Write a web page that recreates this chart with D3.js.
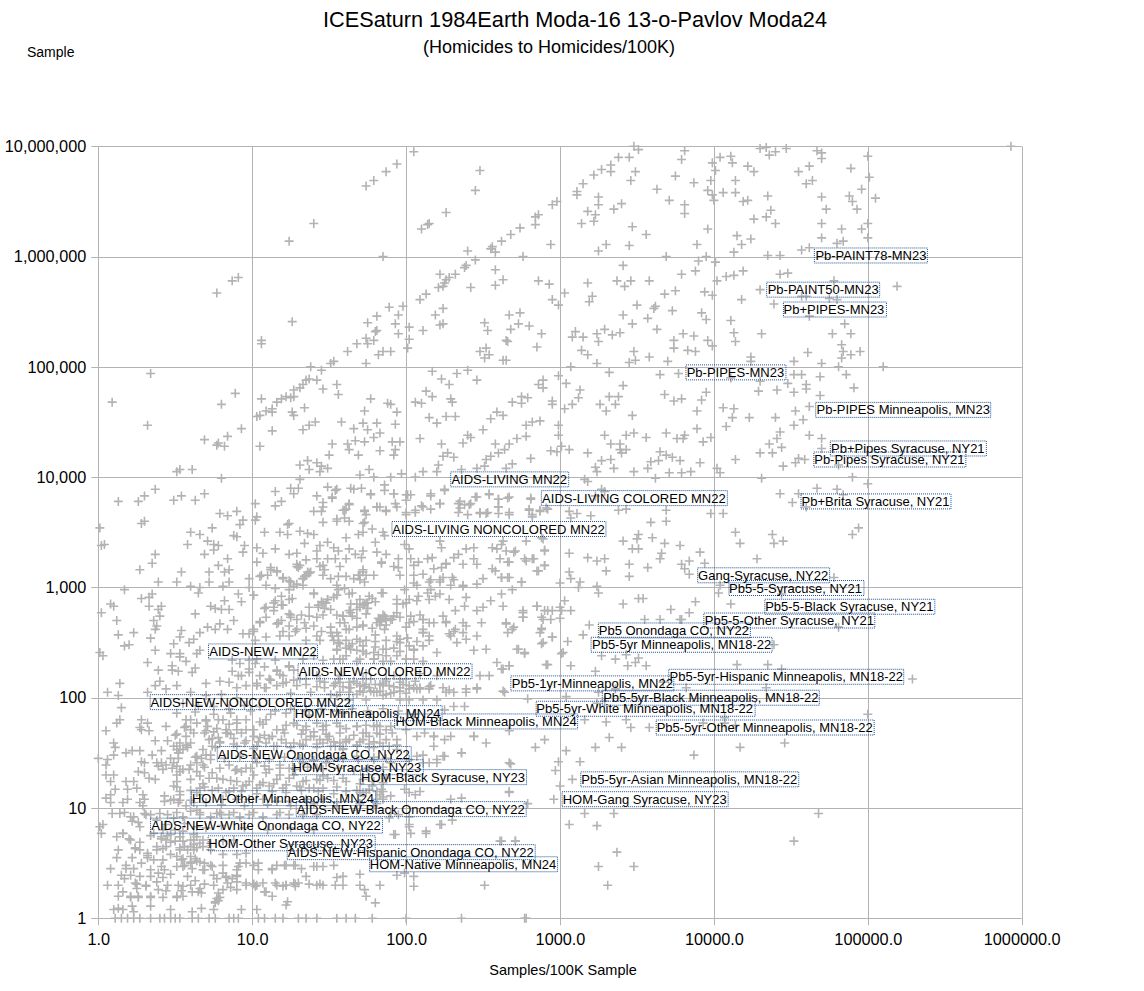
<!DOCTYPE html>
<html><head><meta charset="utf-8">
<script src="https://cdn.jsdelivr.net/npm/d3@7"></script>
<style>html,body{margin:0;background:#fff}svg{display:block}text{font-family:"Liberation Sans",Arial,sans-serif;fill:#000}</style>
</head><body><div id="c"></div>
<script>
const chartTitle="ICESaturn 1984Earth Moda-16 13-o-Pavlov Moda24";
const chartSubtitle="(Homicides to Homicides/100K)";
const xTitle="Samples/100K Sample";
const yTitle="Sample";
const xTicks=[1,10,100,1000,10000,100000,1000000];
const yTicks=[1,10,100,1000,10000,100000,1000000,10000000];
// Readings from the picture as [log10 samples per 100K, log10 samples]
const upperLeftReadings=[[2.05,6.95],[1.94,6.84],[1.87,6.77],[1.79,6.69],[1.74,6.64],[2.48,6.78],[2.45,6.6],[2.26,6.4],[2.15,6.3],[2.14,6.29],[2.1,6.25],[1.4,6.3],[1.24,6.14],[1.85,6],[2.98,6.5],[2.95,6.47],[2.86,6.38],[2.84,6.36],[2.84,6.29],[2.74,6.26],[2.68,6.2],[2.62,6.14],[2.56,6.09],[2.55,6.07],[2.58,6.04],[2.4,6.05],[2.94,6.11],[2.76,6],[2.45,5.97],[2.39,5.92],[2.38,5.9],[2.32,5.84],[2.28,5.81],[2.26,5.79],[2.25,5.76],[2.24,5.73],[2.22,5.84],[2.21,5.72],[2.58,5.88],[2.63,5.79],[2.58,5.74],[2.42,5.72],[2.86,5.78],[2.93,5.75],[2.95,5.61],[2.99,5.56],[.91,5.81],[.87,5.78],[.77,5.67],[2.13,5.66],[2.09,5.61],[1.98,5.55],[1.89,5.54],[2.24,5.53],[2.19,5.47],[2.74,5.49],[2.67,5.47],[1.81,5.46],[1.95,5.47],[1.75,5.4],[1.93,5.39],[2.24,5.39],[2.22,5.38],[2.51,5.4],[2.53,5.33],[2.73,5.39],[2.68,5.34],[2.8,5.37],[2.88,5.3],[1.26,5.41],[1.81,5.33],[1.8,5.32],[1.79,5.24],[1.74,5.26],[1.75,5.21],[2.02,5.36],[2.11,5.33],[1.95,5.3],[2.02,5.25],[2.01,5.17],[2.65,5.24],[2.66,5.23],[1.06,5.24],[1.06,5.21],[2.85,5.18],[2.52,5.17],[2.48,5.14],[2.54,5.11],[2.51,5.08],[2.63,5.06],[2.65,5.06],[1.9,5.14],[1.85,5.14],[1.82,5.11],[1.68,5.21],[1.62,5.14],[1.53,5.05],[1.51,5.03],[1.74,5.03],[1.38,5],[1.45,4.97],[2.17,4.96],[2.33,4.94],[2.4,4.97],[2.46,4.88],[2.23,4.89],[2.28,4.84],[2.86,4.84],[2.89,4.88],[2.89,4.81],[2.99,4.92],[.34,4.94],[1.37,4.89],[1.35,4.88],[1.33,4.84],[1.31,4.81],[1.42,4.88],[1.46,4.8],[1.55,4.84],[1.56,4.75],[1.27,4.79],[1.27,4.73],[1.25,4.72],[1.22,4.73],[1.19,4.71],[1.16,4.68],[1.06,4.71],[2.13,4.78],[2.17,4.73],[2.06,4.68],[2.1,4.67],[1.77,4.71],[1.88,4.67],[1.9,4.66],[1.94,4.59],[2.29,4.71],[2.3,4.68],[2.79,4.72],[2.75,4.73],[2.75,4.67],[2.69,4.68],[2.95,4.69],[2.95,4.66],[.89,4.76],[.8,4.66],[.09,4.68],[1.13,4.62],[1.09,4.6],[1.13,4.59],[1.03,4.55],[1.05,4.56],[1.34,4.63],[1.26,4.59],[1.27,4.56],[1.73,4.6],[1.72,4.49],[1.81,4.49],[1.93,4.48],[1.58,4.5],[1.41,4.5],[1.37,4.47],[1.33,4.43],[2.15,4.54],[2.2,4.49],[2.26,4.55],[2.32,4.55],[2.59,4.59],[2.63,4.56],[2.55,4.53],[2.87,4.51],[2.82,4.5],[2.78,4.47],[2.99,4.47],[2.5,4.43],[.32,4.47],[.93,4.44],[.69,4.34],[1.13,4.42],[1.66,4.44],[1.75,4.43],[1.83,4.4],[1.79,4.36],[1.73,4.32],[1.67,4.33],[1.62,4.3],[1.52,4.3],[2.4,4.38],[2.42,4.36],[2.37,4.31],[2.09,4.35],[2.78,4.37],[2.72,4.35],[2.67,4.3],[2.64,4.25],[2.6,4.22],[2.55,4.19],[2.52,4.16],[2.99,4.38],[2.94,4.24],[2.98,4.23],[2.23,4.3],[2.58,4.3],[1.91,4.32],[1.96,4.32],[1.83,4.24],[1.93,4.25],[1.92,4.2],[.77,4.29],[.78,4.31],[.82,4.28],[.84,4.37],[1.05,4.28],[1.63,4.25],[1.69,4.2],[1.5,4.2],[2.27,4.22],[2.24,4.19],[2.31,4.18],[2.21,4.11],[2.81,4.17],[2.69,4.12],[2.51,4.1],[1.31,4.11],[1.36,4.15],[1.42,4.13],[1.45,4.1],[1.49,4.08],[1.37,4.07],[1.44,4.05],[.53,4.07],[.61,4.07],[.51,4.05],[1.76,4.07],[1.7,4.02],[1.79,4],[2.11,4.05],[2.2,4.05],[2.36,4.07],[2.46,4.08],[2.65,4.08],[1.97,4.03],[1.9,4],[2.06,4],[1.31,3.98],[.8,3.99],[.37,3.89],[.3,3.83],[.26,3.78],[.13,3.78],[.54,3.83],[.49,3.79],[.63,3.79],[.69,3.85],[1.15,3.87],[1.25,3.9],[1.3,3.9],[1.27,3.85],[1.19,3.78],[1.15,3.74],[1.02,3.76],[1.42,3.83],[1.55,3.89],[1.49,3.91],[1.52,3.81],[1.46,3.77],[1.46,3.73],[1.66,3.89],[1.71,3.9],[1.86,3.93],[1.86,3.88],[1.92,3.85],[1.77,3.84],[2,3.84],[2.03,3.84],[2,3.79],[1.93,3.76],[2.16,3.83],[2.25,3.88],[2.35,3.78],[2.38,3.75],[2.42,3.76],[2.35,3.72],[2.46,3.82],[2.54,3.84],[2.6,3.8],[2.66,3.81],[2.81,3.81],[2.22,3.76],[2.16,3.71],[2.11,3.73],[2.06,3.68],[2,3.66],[1.81,3.73],[1.73,3.7],[1.63,3.75],[1.6,3.7],[1.4,3.69],[1.45,3.69],[1.87,3.7],[1.74,3.66],[.9,3.69],[.79,3.67],[.84,3.65],[.3,3.6],[.28,3.58],[.94,3.61],[.92,3.57],[1.02,3.61],[1.03,3.64],[.01,3.54],[.74,3.54],[1.23,3.57],[1.46,3.59],[1.55,3.6],[1.6,3.63],[1.72,3.58],[2.48,3.67],[2.52,3.67],[2.6,3.73],[2.6,3.67],[2.67,3.66],[2.8,3.7],[2.82,3.64],[2.87,3.7],[2.91,3.72]];
const upperRightReadings=[[5.93,7],[3.48,7],[3.51,6.97],[3.81,6.96],[3.79,6.88],[3.38,6.9],[3.45,6.9],[3.33,6.83],[3.33,6.77],[3.27,6.79],[3.22,6.74],[3.49,6.77],[3.46,6.69],[3.75,6.73],[3.15,6.66],[3.11,6.59],[3.11,6.56],[3.25,6.54],[3.25,6.47],[3.4,6.48],[3.35,6.43],[3.18,6.41],[3.23,6.38],[3.22,6.32],[3.14,6.3],[3.63,6.61],[3.71,6.51],[3.87,6.67],[3.81,6.47],[3.81,6.39],[3.47,6.27],[3.56,6.2],[3.3,6.11],[3.25,6.05],[3.45,6.1],[3.99,6.85],[4.01,6.78],[4.04,6.9],[4.11,6.91],[4.12,6.85],[4.3,6.98],[4.34,6.99],[4.4,6.95],[4.36,6.92],[4.47,6.98],[4.22,6.82],[4.26,6.77],[4.14,6.69],[3.98,6.69],[3.96,6.6],[3.99,6.56],[4,6.51],[4.06,6.58],[4.14,6.58],[4.19,6.5],[4.22,6.51],[4.35,6.55],[4.67,6.96],[4.7,6.94],[4.7,6.89],[4.55,6.77],[4.62,6.82],[4.64,6.69],[4.6,6.66],[5,6.91],[4.89,6.8],[5.01,6.72],[4.96,6.61],[4.88,6.55],[5.05,6.53],[4.9,6.5],[4.93,6.43],[4.7,6.54],[4.73,6.43],[4.37,6.42],[4.34,6.36],[4.26,6.34],[4.4,6.3],[4.7,6.3],[4.83,6.25],[4.96,6.25],[5,6.3],[4.7,6.17],[5,6.17],[4.84,6.14],[4.8,6.12],[3.96,6.25],[4.15,6.19],[4.24,6.16],[4.18,6.11],[3.89,6.11],[4.13,6.04],[4.57,6.06],[4.62,6.08],[4.35,6.01],[4.43,6.01],[3.69,6],[3.95,6],[3.9,5.96],[4.01,5.95],[3.41,5.92],[3.88,5.87],[3.79,5.84],[4.19,5.87],[4.13,5.83],[4.08,5.82],[4.02,5.78],[4.43,5.84],[4.48,5.85],[5.19,5.73],[4.78,5.78],[4.3,5.7],[4.18,5.61],[4.39,5.57],[3.18,5.76],[3.37,5.78],[3.46,5.78],[3.58,5.78],[3.42,5.73],[3.03,5.67],[3.21,5.64],[3.19,5.59],[3.68,5.66],[3.75,5.69],[3.94,5.68],[3.99,5.65],[3.5,5.56],[3.62,5.55],[3.61,5.53],[3.73,5.51],[3.41,5.47],[3.92,5.49],[3.95,5.43],[3.57,5.44],[3.47,5.39],[3.63,5.34],[4.11,5.42],[4.13,5.31],[4.31,5.3],[4.14,5.23],[4.57,5.64],[4.6,5.64],[4.75,5.62],[4.8,5.61],[4.62,5.46],[4.85,5.39],[4.77,5.3],[4.89,5.3],[4.83,5.2],[4.84,5.14],[4.89,5.11],[4.95,5.14],[4.83,5.08],[4.61,5.13],[4.52,5.05],[4.7,5.03],[4.81,5],[5.1,5],[3.1,5.32],[3.08,5.27],[3.15,5.27],[3.24,5.3],[3.29,5.34],[3.34,5.29],[3.39,5.31],[3.25,5.23],[3.74,5.24],[3.74,5.17],[3.8,5.3],[3.87,5.28],[3.96,5.24],[3.99,5.19],[3.83,5.15],[3.88,5.14],[3.48,5.14],[3.58,5.09],[3.45,5.04],[3.49,5.06],[3.7,5.05],[3.14,5.15],[3.18,5.11],[3.24,5.03],[3.07,5],[3.32,4.95],[3.65,4.93],[3.77,4.94],[3.04,4.85],[4.24,5.09],[4.24,5.05],[4.11,4.9],[4.3,4.87],[4.52,4.93],[4.57,4.93],[4.69,4.91],[4.86,4.93],[4.48,4.85],[4.6,4.84],[4.6,4.8],[4.52,4.77],[4.41,4.79],[4.29,4.78],[4.91,4.81],[4.69,4.74],[3.41,4.83],[3.13,4.79],[3.12,4.72],[3.68,4.75],[3.74,4.69],[3.79,4.71],[3.92,4.7],[3.95,4.77],[3.32,4.73],[3.38,4.73],[3.36,4.66],[3.26,4.66],[3.3,4.6],[3.08,4.66],[3.03,4.62],[3.47,4.56],[3.89,4.6],[4.06,4.63],[4.13,4.62],[4.12,4.54],[4.23,4.54],[4.4,4.54],[4.08,4.46],[4.53,4.6],[4.62,4.64],[4.58,4.52],[4.52,4.47],[4.43,4.41],[4.41,4.35],[4.36,4.3],[4.44,4.27],[4.3,4.22],[4.38,4.22],[4.62,4.38],[4.7,4.35],[4.7,4.26],[4.55,4.17],[4.59,4.16],[4.53,4.13],[4.45,4.1],[4.81,4.11],[3.89,4.44],[3.98,4.36],[3.93,4.32],[4.14,4.16],[3.29,4.38],[3.43,4.38],[3.48,4.4],[3.56,4.36],[3.69,4.4],[3.76,4.35],[3.81,4.38],[3.8,4.35],[3.33,4.3],[3.39,4.3],[3.39,4.25],[3.43,4.25],[3.4,4.22],[3.06,4.25],[3.18,4.22],[3.01,4.28],[3.65,4.23],[3.59,4.14],[3.64,4.15],[3.69,4.2],[3.73,4.18],[3.78,4.15],[3.27,4.15],[3.33,4.16],[3.23,4.09],[3.35,4.08],[3.24,4.05],[3.57,4.08],[3.48,4.05],[3.71,4.04],[3.79,4.04],[3.85,4.05],[3.91,4.13],[4.02,4.08],[4.04,4.04],[3.62,3.99],[4.31,3.99],[4.9,4],[5,3.94],[4.67,3.9],[4.8,3.89],[4.43,3.85],[4.55,3.85],[4.84,3.84],[4.51,3.77],[4.6,3.73],[3.18,3.96],[3.16,3.98],[3.27,3.89],[3.29,3.87],[3.23,3.83],[3.98,3.67],[4.06,3.67],[3.69,3.7],[3.69,3.6],[3.59,3.59],[3.43,3.71],[3.38,3.7],[3.2,3.65],[3.11,3.67],[3.06,3.69],[3.07,3.63],[4.94,3.54]];
const lowerRightReadings=[[4.14,3.5],[4.38,3.48],[4.9,3.48],[4.17,3.4],[4.39,3.4],[4.45,3.42],[3.51,3.48],[3.5,3.44],[3.41,3.42],[3.6,3.45],[3.68,3.4],[3.78,3.38],[3.47,3.35],[3.51,3.35],[3.66,3.31],[3.65,3.26],[3.91,3.32],[4.28,3.26],[3.84,3.24],[3.79,3.21],[3.81,3.17],[3.94,3.22],[3.84,3.12],[3.45,3.21],[3.45,3.1],[3.57,3.18],[3.3,3.15],[2.9,3.34],[2.88,3.45],[2.78,3.42],[2.7,3.32],[3.06,3.31],[3.18,3.27],[3.24,3.24],[3.29,3.26],[2.78,3.24],[2.83,3.26],[2.9,3.2],[2.85,3.15],[2.66,3.23],[2.66,3.09],[2.62,3.09],[2.75,3.05],[2.69,2.98],[3.06,3.14],[3.07,3.08],[3.13,3.05],[3,3.04],[3.12,3],[3.24,3.01],[3.25,2.95],[4.78,3.09],[4.44,2.94],[4.04,3.02],[4.03,2.95],[3.88,2.87],[4.11,2.85],[3.41,2.85],[3.51,2.9],[3.54,2.9],[3.03,2.88],[3.07,2.79],[3,2.82],[2.85,2.83],[2.9,2.79],[2.92,2.79],[2.76,2.79],[2.76,2.73],[2.88,2.73],[2.94,2.71],[3,2.72],[3.19,2.66],[3.15,2.57],[2.65,2.67],[2.7,2.64],[2.66,2.59],[2.88,2.63],[2.87,2.59],[2.95,2.55],[2.88,2.49],[3.05,2.51],[3.72,2.8],[3.84,2.77],[3.79,2.71],[3.55,2.71],[3.65,2.71],[3.78,2.71],[4.81,2.64],[4.39,2.48],[2.73,2.44],[2.77,2.4],[3.01,2.4],[3.27,2.38],[3.36,2.35],[3.43,2.39],[3.51,2.36],[3.49,2.32],[3.56,2.29],[3.44,2.29],[2.92,2.3],[3.07,2.29],[4.15,2.3],[4.35,2.3],[4.44,2.26],[3.23,2.24],[2.67,2.29],[2.62,2.26],[2.64,2.05],[5.29,2.17],[4.34,2.09],[3.82,2.09],[3.25,2.05],[3.36,2.08],[3.67,2.14],[2.79,1.99],[3.04,2.01],[3.24,1.95],[3.29,1.97],[5,1.85],[3.16,1.8],[3.3,1.78],[3.43,1.8],[3.46,1.73],[3.58,1.73],[3.93,1.77],[4.07,1.82],[4.07,1.77],[4.14,1.75],[2.67,1.7],[2.9,1.62],[2.84,1.55],[3.32,1.64],[3.04,1.52],[3.23,1.55],[3.4,1.55],[4.17,1.55],[4.46,1.59],[3.87,1.48],[3.13,1.42],[2.99,1.42],[2.97,1.34],[2.68,1.4],[3.08,1.26],[3,1.2],[2.67,1.14],[2.96,1.08],[2.79,1.04],[3.16,.95],[3.35,.95],[4.68,.95],[3.06,.85],[3.24,.84],[4.52,.7],[2.62,.7],[2.71,.7],[3.37,.6],[3.25,.47],[3.48,.47],[3.31,.3],[2.77,0]];
const midLeftReadings=[[.02,3.38],[.04,3.39],[.6,3.5],[.66,3.48],[.71,3.42],[.69,3.3],[.58,3.39],[.75,3.39],[.78,3.38],[.75,3.34],[.88,3.47],[.9,3.46],[.95,3.38],[.94,3.32],[1.03,3.36],[1.07,3.31],[1.15,3.35],[1.03,3.23],[1.08,3.5],[1.18,3.5],[1.23,3.48],[1.31,3.51],[1.36,3.49],[1.4,3.48],[1.24,3.58],[1.34,3.4],[1.24,3.3],[1.29,3.31],[1.35,3.25],[.37,3.3],[.35,3.22],[.27,3.16],[.54,3.14],[.84,3.26],[.78,3.2],[.85,3.16],[.82,3.14],[.72,3.14],[.72,3.05],[.85,3.05],[.81,3.01],[.39,3.05],[.51,3.05],[.6,3.01],[.17,2.98],[.66,3],[.65,2.95],[.98,3.08],[.98,3],[1.06,3.11],[1.1,3.11],[1.2,3.09],[1.24,3.06],[1.12,3.18],[1.16,3.15],[1.29,3.21],[1.3,3.18],[1.35,3.11],[1.36,3.14],[1.33,3.08],[1.01,2.93],[.91,2.94],[.93,2.87],[.82,2.88],[.35,2.94],[.33,2.91],[.28,2.9],[.33,2.83],[.08,2.85],[.1,2.83],[.02,2.77],[.12,2.7],[.41,2.83],[.39,2.8],[.4,2.74],[.36,2.7],[.38,2.65],[.37,2.62],[.73,2.83],[.76,2.81],[.8,2.8],[.85,2.8],[.63,2.76],[.88,2.7],[.79,2.67],[.71,2.64],[.76,2.62],[.84,2.62],[.66,2.59],[.54,2.61],[.13,2.57],[.23,2.59],[.17,2.47],[.2,2.48],[.34,2.54],[.49,2.49],[.59,2.5],[.62,2.53],[.53,2.55],[.01,2.41],[.03,2.38],[.37,2.43],[.32,2.32],[.47,2.4],[.53,2.4],[.53,2.37],[.64,2.4],[.66,2.43],[.48,2.29],[.52,2.24],[.57,2.33],[.48,2.25],[.39,2.25],[.4,2.15],[.63,2.27],[.61,2.23],[.14,2.13],[.06,2.05],[.13,2.02],[.32,2.05],[.44,2.08],[.51,2.11],[.37,2.11],[.7,2.13],[.79,2.15],[.85,2.14],[.87,2.24],[.91,2.2],[.93,2.2],[.98,2.26],[.9,2.09],[.96,2.11],[1.24,2.76],[1.25,2.73],[1.32,2.75],[1.37,2.74],[1.42,2.73],[1.15,2.88],[1.19,2.92],[1.24,2.89],[1.2,2.84],[1.09,2.82],[1.14,2.82],[1.05,2.68],[1.09,2.73],[1.14,2.79],[1.16,2.67],[1.19,2.7],[1.24,2.65],[1.29,2.62],[1.01,2.62],[.98,2.58],[.94,2.58],[1.09,2.55],[1.18,2.56],[1.24,2.56],[1.35,2.52],[1.42,2.56],[1.37,2.82],[1.43,2.82],[1.46,2.86],[1.49,2.89],[1.4,2.94],[1.33,3.02],[1.24,2.98],[1.29,3.03],[1.46,3.11],[1.42,3.33],[1.44,3.38],[1.42,3.26],[1.49,3.26],[1.46,3.2],[1.49,3.41],[.87,2.34],[.92,2.31],[.98,2.34],[1.03,2.35],[1.15,2.34],[1.24,2.29],[1.33,2.35],[1.4,2.38],[.98,2.23],[1.05,2.2],[1.11,2.17],[1.16,2.25],[1.2,2.2],[1.27,2.25],[1.03,2.11],[1.09,2.09],[1.16,2.11],[1.22,2.14],[1.29,2.11],[1.35,2.17],[1.42,2.2],[1.47,2.14]];
const midCentreReadings=[[1.54,3.88],[1.64,3.9],[1.77,3.85],[1.92,3.85],[2.01,3.84],[2.16,3.85],[2.25,3.89],[1.52,3.82],[1.63,3.76],[1.61,3.71],[1.59,3.7],[1.73,3.69],[1.81,3.73],[1.83,3.73],[1.87,3.69],[1.94,3.73],[2.06,3.7],[2.1,3.74],[2.22,3.76],[2.34,3.76],[2.41,3.75],[2.45,3.82],[2.54,3.85],[2.6,3.8],[2.67,3.82],[2.6,3.73],[2.53,3.68],[2.67,3.68],[2.48,3.68],[2.4,3.66],[2.34,3.68],[2.81,3.8],[2.8,3.71],[2.82,3.66],[2.87,3.69],[2.92,3.71],[1.55,3.62],[1.63,3.6],[1.73,3.59],[1.78,3.53],[1.72,3.5],[1.69,3.48],[1.61,3.45],[1.85,3.5],[1.86,3.47],[2,3.68],[1.53,3.36],[1.56,3.33],[1.63,3.35],[1.67,3.3],[1.72,3.33],[1.8,3.41],[1.81,3.32],[1.87,3.3],[1.95,3.26],[1.99,3.39],[2.02,3.35],[1.54,3.26],[1.61,3.26],[1.71,3.27],[1.84,3.23],[1.95,3.18],[1.96,3.11],[2.22,3.42],[2.23,3.36],[2.34,3.3],[2.31,3.27],[2.26,3.21],[2.39,3.35],[2.44,3.36],[2.44,3.26],[2.46,3.21],[2.56,3.36],[2.59,3.35],[2.63,3.42],[2.62,3.39],[2.71,3.33],[2.65,3.33],[2.61,3.26],[2.67,3.23],[2.77,3.26],[2.82,3.26],[2.9,3.33],[2.89,3.44],[2.9,3.2],[2.86,3.15],[2.56,3.17],[2.58,3.15],[2.62,3.09],[2.67,3.09],[2.5,3.08],[2.75,3.05],[2.03,3.26],[2.08,3.23],[2.14,3.26],[2.17,3.27],[2.23,3.18],[2.37,3.21],[2.24,3.09],[2.3,3.09],[2.11,3.12],[2.05,3.11],[2.15,3.05],[2.22,3.05],[2.29,3.02],[2.37,3.02],[2.46,3.03],[2.14,2.95],[2.22,2.94],[2.15,2.89],[2.08,2.92],[2.07,2.88],[1.99,2.98],[2.39,2.91],[2.38,2.83],[2.32,2.79],[2.28,2.89],[2.46,2.79],[2.55,2.88],[2.5,2.82],[2.62,2.94],[2.63,2.83],[1.72,3.14],[1.7,3.11],[1.66,3.08],[1.79,3.11],[1.84,2.95],[1.76,2.92],[1.75,2.86],[1.68,2.85],[1.63,2.94],[1.56,2.98],[1.53,2.91],[1.73,2.85],[1.7,2.82],[1.63,2.79],[1.59,2.74],[1.57,2.68],[1.86,2.74],[1.83,2.7],[1.87,2.7],[1.81,2.68],[1.91,2.71],[2.02,2.68],[1.98,2.85],[1.94,2.89],[2.11,2.71],[2.15,2.68],[2.24,2.74],[2.26,2.68],[2.37,2.68],[2.39,2.65],[2.49,2.68],[2.65,2.68],[2.69,2.62],[2.76,2.77],[2.76,2.73],[2.85,2.83],[2.89,2.71],[2.88,2.62],[2.95,2.79],[3.01,2.79],[2.11,2.59],[2.15,2.56],[2.28,2.58],[2.32,2.62],[2.39,2.53],[2.46,2.56],[2.44,2.43],[2.52,2.44],[2.33,2.5],[2.72,2.44],[2.77,2.41],[2.89,2.5],[2.95,2.55],[3.02,2.41],[2.91,2.3],[2.59,2.32],[2.67,2.29],[2.63,2.26],[2.54,2.2],[2.48,2.2],[2.63,2.06],[2.46,2.09],[2.39,2.05],[2.26,2.05],[2.16,2.11],[2.07,2.08],[1.83,2.71],[1.72,2.65],[1.63,2.62],[1.55,2.59],[1.94,2.56],[2.02,2.47],[1.96,2.5],[1.87,2.44],[1.79,2.41],[1.72,2.47],[1.63,2.47],[1.56,2.5],[1.52,2.56],[2.11,2.47],[2.2,2.41],[2,2.35],[1.55,2.44],[1.61,2.38],[1.7,2.35],[1.79,2.35],[1.87,2.38],[1.94,2.38],[2.05,2.35],[1.53,2.35],[1.57,2.35],[1.63,2.14],[1.7,2.11],[1.76,2.09],[1.83,2.12],[1.89,2.11],[1.96,2.14],[2.02,2.11],[1.57,2.14],[1.72,2.17],[1.87,2.17],[2,2.17],[1.63,2.05],[1.72,2.05],[1.81,2.05],[1.92,2.05]];
const lowerLeftReadings=[[.15,1.91],[.14,1.8],[.12,1.77],[.05,1.7],[.28,1.8],[.27,1.73],[.32,1.77],[.33,1.7],[.28,1.71],[.44,1.74],[.57,1.8],[.64,1.77],[.7,1.79],[.71,1.74],[.7,1.7],[.6,1.71],[.56,1.73],[.1,1.59],[.11,1.55],[.37,1.61],[.45,1.61],[.51,1.67],[.6,1.59],[.58,1.55],[.51,1.56],[.53,1.53],[.52,1.5],[0,1.45],[.1,1.48],[.06,1.44],[.05,1.39],[.18,1.5],[.22,1.52],[.27,1.52],[.35,1.48],[.41,1.52],[.28,1.42],[.3,1.41],[.38,1.41],[.41,1.41],[.44,1.39],[.39,1.38],[.51,1.38],[.53,1.33],[.64,1.41],[.67,1.45],[.7,1.48],[.74,1.56],[.78,1.64],[.83,1.68],[.05,1.3],[.1,1.3],[.08,1.24],[.26,1.33],[.3,1.32],[.33,1.27],[.37,1.26],[.18,1.24],[.23,1.24],[.25,1.18],[.19,1.17],[.11,1.17],[.08,1.12],[.19,1.08],[.16,1.05],[.29,1.12],[.3,1.08],[.43,1.11],[.43,1.06],[.05,1.09],[.09,.95],[.14,.95],[.21,.92],[.22,.88],[.27,.83],[.4,.95],[.45,.94],[.55,.92],[.6,.97],[.64,.98],[.03,.85],[.01,.83],[.02,.77],[.16,.77],[.12,.74],[.21,.71],[.24,.64],[.27,.62],[.13,.62],[.12,.55],[.41,.74],[.44,.71],[.47,.76],[.53,.74],[.6,.71],[.64,.74],[.55,.7],[.62,.67],[.58,.62],[.53,.64],[.32,.59],[.38,.65],[.47,.58],[.32,.55],[.22,.55],[.18,.48],[.08,.45],[.15,.39],[.17,.36],[.06,.3],[.13,.3],[.27,.38],[.34,.38],[.24,.32],[.25,.27],[.31,.29],[.39,.41],[.39,.26],[.45,.3],[.52,.3],[.43,.44],[.41,.47],[.55,.47],[.6,.5],[.64,.52],[.54,.53],[.69,.5],[.69,.44],[.74,.47],[.81,.41],[.83,.38],[.87,.36],[.9,.38],[.84,.32],[.61,.45],[.58,.38],[.65,.24],[.67,.23],[.6,.3],[.55,.29],[.75,.3],[.78,.23],[.77,.18],[.76,.14],[.81,.26],[.13,.2],[.21,.2],[.26,.2],[.34,.2],[.51,.2],[.55,.2],[1.08,.24],[1.13,.2],[1.23,.15],[1.22,.12],[.1,.08],[.13,.09],[.16,.08],[.22,.11],[.23,.06],[.34,.11],[.47,.08],[.61,.06],[.67,.09],[.75,.08],[.93,.08],[1.03,.08],[.11,0],[.15,0],[.19,0],[.23,0],[.27,0],[.34,0],[.4,0],[.43,0],[.47,0],[.5,0],[.53,0],[.61,0],[.65,0],[.72,0],[.76,0],[.85,0],[.88,0],[.91,0],[1.04,0],[1.08,0],[1.15,0],[1.2,0],[1.3,0],[1.35,0],[1.42,0],[1.13,.44],[1.16,.48],[1.21,.48],[1.27,.48],[1.32,.45],[1.42,.47],[1.46,.47],[.92,.5],[.96,.5],[1.04,.5],[1.04,.44],[.9,.44],[.9,.26],[.96,.32],[1.02,.29],[1.07,.32],[1.15,.32],[1.22,.3],[1.27,.32],[1.3,.32],[1.35,.38],[1.42,.3],[1.46,.3],[1.16,.3],[1.2,.29],[1.28,.29],[.81,1.8],[.85,1.76],[.9,1.71],[.84,1.68],[1.01,1.71],[1.05,1.64],[1.09,1.59],[1.13,1.65],[1.2,1.71],[1.27,1.77],[1.33,1.71],[1.4,1.65],[1.46,1.71],[1.07,1.76],[.96,1.8],[.9,1.8],[.72,1.62],[.79,1.59],[.88,1.58],[.96,1.61],[1.03,1.56],[1.16,1.56],[1.22,1.59],[1.31,1.58],[1.42,1.58],[1.49,1.62],[.85,1.39],[.9,1.35],[.96,1.36],[1.03,1.41],[1.11,1.35],[1.18,1.39],[1.24,1.36],[1.33,1.41],[1.42,1.36],[1.48,1.41],[.66,1.29],[.72,1.27],[.81,1.26],[.9,1.24],[.98,1.24],[1.07,1.23],[1.16,1.26],[1.24,1.27],[1.33,1.24],[1.42,1.26],[1.49,1.27],[.49,1.2],[.66,1.18],[.85,1.15],[.94,1.2],[1.03,1.18],[1.11,1.2],[1.2,1.18],[1.29,1.2],[1.37,1.18],[1.46,1.18],[.53,1.12],[.9,1.08],[.98,1.08],[1.07,1.08],[1.16,1.06],[1.24,1.06],[1.35,1.08],[1.46,1.08],[.34,.94],[.66,.94],[.73,.92],[.77,.95],[.8,.94],[.85,.94],[.92,.92],[.98,.94],[1.07,.92],[1.16,.94],[1.24,.94],[1.33,.94],[1.42,.94],[.68,.71],[.73,.68],[.81,.7],[.88,.71],[.64,.64],[.73,.62],[.81,.58],[.9,.58],[.96,.59]];
const lowerCentreReadings=[[2.31,1.92],[2.25,1.89],[2.18,1.65],[2.25,1.62],[2.12,1.68],[2.38,1.92],[2.44,1.65],[2.52,1.59],[2.36,1.5],[2.25,1.47],[2.18,1.56],[2.11,1.48],[2.2,1.44],[2.15,1.41],[2.67,1.41],[2.67,1.15],[2.36,1.09],[2.29,1.08],[2.06,1.12],[1.99,1.17],[1.85,1.15],[1.83,1.12],[1.81,1.08],[2.3,.89],[2.23,.85],[2.02,.85],[2.13,.77],[2.03,.77],[1.93,.76],[1.89,.91],[1.95,.94],[2.61,.7],[2.71,.7],[1.59,.38],[1.7,.4],[1.94,.39],[2.05,.38],[1.99,.41],[1.54,.3],[1.59,.3],[1.7,.3],[1.83,.3],[2.05,.29],[2.51,.3],[1.73,.26],[1.74,.2],[1.8,.14],[1.55,0],[1.61,0],[1.67,0],[1.78,0],[2,0],[2.36,0],[2.78,0],[1.91,1.68],[1.87,1.71],[1.83,1.74],[1.81,1.68],[1.76,1.65],[1.72,1.68],[1.63,1.62],[1.57,1.59],[1.94,1.57],[1.89,1.56],[1.76,1.58],[1.68,1.56],[1.59,1.53],[1.54,1.56],[1.78,1.2],[1.84,1.17],[1.76,1.17],[1.7,1.14]];
const denseUpperBandReadings=[[1.34,3.1],[1.37,3.13],[1.38,3.14],[1.33,3.08],[1.72,3.16],[1.69,3.11],[1.74,3.11],[1.7,3.07],[1.73,3.05],[1.29,3.19],[1.31,3.2],[1.44,3.19],[1.57,3.19],[1.47,3.16],[1.51,3.08],[1.56,3.1],[1.61,3.1],[1.55,3.02],[1.84,3.22],[1.92,3.19],[2.05,3.2],[2.18,3.17],[2.22,3.07],[2.31,3.07],[2.37,3.01],[2.05,3.04],[2.07,3.02],[2.16,2.98],[2.19,2.92],[2.16,3.07],[2.26,3.22],[1.05,3.1],[1.12,3.16],[1.16,3.14],[1.2,3.08],[1.25,3.05],[1.09,3.02],[1.15,2.99],[1.27,3.01],[1.4,2.95],[1.45,2.87],[1.49,2.89],[1.55,2.93],[1.6,2.99],[1.65,2.95],[1.7,2.89],[1.74,2.86],[1.78,2.9],[1.85,2.95],[1.43,2.84],[1.51,2.8],[1.55,2.75],[1.59,2.74],[1.64,2.77],[1.68,2.8],[1.72,2.84],[1.47,2.81],[1.75,2.81],[1.68,2.72],[1.6,2.68],[1.82,2.72],[1.84,2.69],[1.87,2.72],[1.9,2.71],[1.85,2.75],[1.83,2.66],[1.87,2.66],[1.92,2.74],[1.94,2.77],[2,2.86],[2.02,2.89],[2.03,2.74],[2.05,2.69],[1.25,2.75],[1.29,2.71],[1.34,2.68],[1.4,2.65],[1.45,2.6],[1.51,2.59],[1.56,2.56],[1.61,2.52],[1.65,2.49],[1.7,2.51],[1.74,2.52],[1.8,2.57],[1.78,2.63],[1.72,2.66],[1.17,2.68],[1.2,2.6],[1.28,2.6],[1.08,2.81],[1.14,2.86],[1.19,2.84],[1.26,2.9],[1.05,2.69],[1.01,2.6],[1.02,2.52],[1.57,2.49],[1.53,2.52],[1.61,2.45],[1.68,2.43],[1.74,2.4],[1.8,2.46],[1.82,2.39],[1.85,2.33],[1.92,2.45],[1.94,2.51],[2.01,2.54],[2.05,2.43],[2.11,2.59],[2.11,2.71],[2.18,2.68],[2.26,2.69],[2.31,2.6],[2.29,2.56],[2.37,2.59],[1.02,2.31],[1.08,2.28],[1.16,2.24],[1.24,2.28],[1.12,2.16],[1.2,2.13],[1.27,2.16],[1.03,2.13],[1.08,2.09],[1.68,2.13],[1.73,2.1],[1.8,2.12],[1.85,2.13],[1.92,2.1],[1.98,2.12],[2.05,2.09],[2.09,2.09],[1.64,2.09],[1.7,2.06],[1.77,2.06],[1.83,2.06],[1.9,2.04],[1.96,2.06],[1.59,2.1],[1.54,2.13],[1.47,2.09],[1.42,2.1],[1.35,2.12],[2.15,2.1],[2.28,2.07],[1.48,2.86],[1.64,2.85],[1.8,2.87],[1.94,2.85],[1.46,2.75],[1.65,2.74],[1.74,2.76],[1.96,2.73],[2.09,2.75],[1.35,2.63],[1.51,2.64],[1.61,2.62],[1.68,2.64],[1.86,2.62],[2,2.64],[2.11,2.62],[1.44,2.52],[1.68,2.53],[1.8,2.51],[1.87,2.52],[1.96,2.53],[2.07,2.51],[2.15,2.52],[1.55,2.43],[1.64,2.44],[1.72,2.42],[1.85,2.44],[1.96,2.42],[2.05,2.44],[1.46,2.34],[1.59,2.35],[1.68,2.33],[1.79,2.35],[1.9,2.33],[2,2.35],[2.11,2.33],[1.18,2.21],[1.57,2.2],[1.74,2.22],[1.92,2.2],[2.09,2.22],[2.2,2.2],[1.31,2.17],[1.44,2.15],[1.56,2.17],[1.66,2.15],[1.77,2.17],[1.87,2.15],[1.96,2.17],[2.06,2.15],[1.25,2.04],[1.38,2.05],[1.51,2.03],[1.57,2.05],[1.68,2.03],[1.79,2.05],[1.87,2.03],[2,2.04]];
const denseMiddleBandReadings=[[.53,1.59],[.55,1.53],[.51,1.53],[.5,1.66],[.57,1.65],[.6,1.8],[.57,1.74],[.7,1.8],[.77,1.72],[.69,1.68],[.74,1.63],[.78,1.8],[.83,1.71],[.9,1.77],[.96,1.71],[1.01,1.65],[1.05,1.78],[1.09,1.8],[1.16,1.71],[1.22,1.75],[1.29,1.75],[1.35,1.71],[1.42,1.77],[1.48,1.75],[1.55,1.77],[1.61,1.72],[1.68,1.74],[1.74,1.75],[1.81,1.75],[.79,1.6],[.88,1.63],[.95,1.59],[1.04,1.6],[1.11,1.63],[1.19,1.62],[1.27,1.59],[1.35,1.62],[1.44,1.62],[1.53,1.6],[1.61,1.6],[1.7,1.6],[1.79,1.6],[1.87,1.62],[.68,1.53],[.64,1.47],[.73,1.48],[.6,1.39],[.68,1.39],[.55,1.35],[.64,1.33],[.74,1.32],[.49,1.41],[.51,1.3],[.6,1.26],[.68,1.22],[.77,1.27],[.86,1.25],[.93,1.33],[1.01,1.3],[1.09,1.32],[1.18,1.3],[1.27,1.3],[1.35,1.25],[1.44,1.25],[1.53,1.25],[1.61,1.24],[1.7,1.22],[1.79,1.24],[1.87,1.27],[.51,1.19],[.6,1.16],[.69,1.19],[.78,1.18],[.88,1.18],[.96,1.21],[1.05,1.21],[1.14,1.22],[1.22,1.21],[1.31,1.19],[1.4,1.18],[.53,1.07],[.6,1.07],[.47,1.07],[1.85,1.1],[1.81,1.04],[1.55,1.19],[1.68,1.16],[1.53,2.11],[1.63,2.09],[1.74,2.12],[1.85,2.11],[1.96,2.09],[2.02,2.08],[2.09,2.08],[2.15,2.08],[2.24,2.09],[2.31,2.05],[2.39,2.08],[2.46,2.08],[1.55,2.02],[1.63,1.98],[1.74,1.98],[1.85,2.02],[1.96,1.98],[2.02,1.98],[2.11,1.98],[2.2,1.98],[1.35,1.74],[1.46,1.74],[1.57,1.74],[1.68,1.74],[1.79,1.74],[1.9,1.74],[2,1.71],[2.07,1.65],[2.18,1.65],[2.29,1.65],[2.44,1.65],[1.38,1.65],[1.5,1.65],[1.61,1.62],[1.72,1.62],[1.83,1.59],[1.94,1.62],[1.46,1.59],[1.57,1.56],[1.68,1.56],[1.79,1.55],[1.94,1.53],[2.07,1.47],[2.24,1.47],[2.36,1.5],[1.68,1.47],[1.79,1.44],[1.9,1.41],[2.02,1.44],[2.11,1.41],[2.2,1.41],[1.46,1.29],[1.59,1.27],[1.72,1.26],[1.85,1.23],[1.74,1.14],[1.9,1.11],[2.02,1.14],[2.09,1.15],[1.85,1.08],[1.55,1.02],[1.68,.98],[1.79,1.02],[1.9,.95],[2.02,.92],[2.22,.85],[2.13,.79],[2.02,.83],[1.92,.76],[.51,1.86],[.63,1.87],[.75,1.85],[.86,1.86],[.99,1.88],[1.12,1.85],[1.22,1.86],[1.37,1.84],[1.59,1.86],[1.76,1.85],[.62,1.68],[.75,1.69],[.86,1.67],[.93,1.68],[1.08,1.66],[1.21,1.68],[1.32,1.67],[1.4,1.69],[1.48,1.67],[1.57,1.68],[1.66,1.66],[1.74,1.68],[1.83,1.67],[.49,1.56],[.57,1.57],[.76,1.55],[.9,1.56],[1.01,1.54],[1.14,1.56],[1.25,1.55],[1.33,1.57],[1.42,1.55],[1.51,1.56],[1.59,1.54],[1.68,1.57],[1.76,1.55],[1.85,1.56],[.52,1.45],[.63,1.46],[.73,1.44],[.82,1.45],[.92,1.47],[1.02,1.45],[1.11,1.44],[1.21,1.46],[1.31,1.45],[1.4,1.43],[1.49,1.46],[1.59,1.45],[1.69,1.44],[1.79,1.46],[1.87,1.45],[.48,1.36],[.59,1.35],[.69,1.37],[.79,1.36],[.89,1.34],[.99,1.36],[1.08,1.38],[1.18,1.36],[1.28,1.35],[1.36,1.37],[1.46,1.35],[1.56,1.36],[1.66,1.34],[1.75,1.36],[1.85,1.37],[.53,1.15],[.64,1.14],[.74,1.16],[.83,1.14],[.93,1.15],[1.03,1.13],[1.13,1.15],[1.22,1.14],[1.32,1.16],[1.43,1.15],[1.53,1.13],[1.61,1.15],[1.72,1.14],[1.81,1.15],[.47,1.45],[.42,1.35],[.51,1.24],[.66,1.12],[.81,1.08],[.49,1.08],[.62,1.05],[.27,1.05],[.08,1.05],[.7,1.05],[.8,1.03],[.95,1.02],[1.1,1.03],[1.25,1.02],[1.4,1.04],[1.55,1.05],[1.7,1.04],[.6,2.05],[.7,2.02],[.8,2.03],[.9,2],[.55,1.95],[.65,1.93],[.75,1.92],[.85,1.9],[.95,1.93],[1.05,1.92],[1.15,1.88],[1.25,1.9],[1.35,1.88],[1.45,1.9],[1.55,1.88],[1.65,1.9],[1.75,1.88],[1.85,1.9],[1.95,1.88],[2.05,1.85]];
const denseLowerBandReadings=[[.17,.96],[.23,.92],[.26,.87],[.29,1.02],[.3,.95],[.51,.96],[.52,1.05],[.66,.96],[.57,1.02],[.79,.96],[.88,.96],[1.01,.96],[1.18,.96],[.16,.77],[.2,.72],[.27,.69],[.24,.63],[.34,.75],[.41,.72],[.47,.69],[.53,.74],[.62,.71],[.66,.68],[.6,.65],[.53,.62],[.42,.63],[.45,.75],[.32,.57],[.38,.62],[.36,.53],[.28,.5],[.23,.45],[.21,.39],[.18,.45],[.42,.53],[.55,.54],[.6,.51],[.63,.54],[.66,.51],[.56,.48],[.51,.47],[.47,.4],[.42,.37],[.34,.44],[.25,.31],[.31,.3],[.38,.33],[.16,.24],[.21,.19],[.26,.19],[.34,.19],[.42,.19],[.51,.19],[.61,.24],[.69,.31],[.77,.36],[.83,.37],[.9,.33],[.96,.3],[1.03,.3],[1.09,.24],[.79,.19],[.76,.15],[.78,.16],[.9,.39],[1.01,.31],[.73,.48],[.81,.48],[.91,.47],[1.01,.48],[1.13,.45],[1.22,.48],[1.28,.48],[1.4,.47],[1.53,.48],[1.55,.37],[1.22,.3],[1.28,.31],[1.37,.31],[1.44,.31],[.44,.25],[.54,.25],[.68,.44],[.86,.28],[.63,.34],[.75,.39],[.66,.27],[.31,.94],[.38,.89],[.44,.85],[.5,.8],[.55,.79],[.62,.76],[.49,.91],[.56,.86],[.64,.83],[.36,.77],[.42,.8],[.5,.7],[.56,.65],[.62,.62],[.68,.65],[.44,.65],[.51,.56],[.6,.56],[.7,.82],[.8,.84],[.95,.82],[1.1,.8],[1.25,.82],[1.4,.8]];
// Callouts: text, with the log10 position of each callout's centre
const labelNames=["Pb-PAINT78-MN23","Pb-PAINT50-MN23","Pb+PIPES-MN23","Pb-PIPES-MN23","Pb-PIPES Minneapolis, MN23","Pb+Pipes Syracuse, NY21","Pb-Pipes Syracuse, NY21","Pb+Brita Syracuse, NY21","AIDS-LIVING MN22","AIDS-LIVING COLORED MN22","AIDS-LIVING NONCOLORED MN22","Gang-Syracuse, NY22","Pb5-5-Syracuse, NY21","Pb5-5-Black Syracuse, NY21","Pb5-5-Other Syracuse, NY21","Pb5 Onondaga CO, NY22","Pb5-5yr Minneapolis, MN18-22","Pb5-5yr-Hispanic Minneapolis, MN18-22","Pb5-1yr-Minneapolis, MN22","Pb5-5yr-Black Minneapolis, MN18-22","Pb5-5yr-White Minneapolis, MN18-22","Pb5-5yr-Other Minneapolis, MN18-22","Pb5-5yr-Asian Minneapolis, MN18-22","HOM-Gang Syracuse, NY23","AIDS-NEW- MN22","AIDS-NEW-COLORED MN22","AIDS-NEW-NONCOLORED MN22","HOM-Minneapolis, MN24","HOM-Black Minneapolis, MN24","AIDS-NEW Onondaga CO, NY22","HOM-Syracuse, NY23","HOM-Black Syracuse, NY23","HOM-Other Minneapolis, MN24","AIDS-NEW-Black Onondaga CO, NY22","AIDS-NEW-White Onondaga CO, NY22","HOM-Other Syracuse, NY23","AIDS-NEW-Hispanic Onondaga CO, NY22","HOM-Native Minneapolis, MN24"];
const labelLogX=[5.02,4.71,4.78,4.14,5.23,5.26,5.14,5.05,2.67,3.48,2.6,4.32,4.53,4.88,4.49,3.74,3.79,4.47,3.21,3.98,3.55,4.33,3.84,3.55,1.07,1.86,.99,1.75,2.52,1.4,1.68,2.24,1.2,2.03,1.09,1.25,2.03,2.37];
const labelLogY=[6.01,5.7,5.52,4.95,4.61,4.26,4.16,3.78,3.98,3.81,3.53,3.11,2.995,2.825,2.7,2.61,2.48,2.19,2.13,2,1.9,1.73,1.26,1.08,2.42,2.24,1.96,1.86,1.785,1.49,1.37,1.28,1.09,.99,.84,.68,.6,.49];

const readings=[...upperLeftReadings,...upperRightReadings,...lowerRightReadings,...midLeftReadings,...midCentreReadings,...lowerLeftReadings,...lowerCentreReadings,...denseUpperBandReadings,...denseMiddleBandReadings,...denseLowerBandReadings];
const points=readings.map(([a,b])=>[10**a,10**b]);
const W=1144,H=991,L=98.3,R=1021.7,T=146.3,B=918.3,grid="#b3b3b3";
const x=d3.scaleLog().domain([1,1e6]).range([L,R]);
const y=d3.scaleLog().domain([1,1e7]).range([B,T]);
const svg=d3.select("#c").append("svg").attr("width",W).attr("height",H);
const g=svg.append("g").attr("class","grid").attr("stroke",grid).attr("stroke-width",1);
g.selectAll(".v").data(xTicks).join("line").attr("class","v").attr("x1",d=>Math.round(x(d))+.5).attr("x2",d=>Math.round(x(d))+.5).attr("y1",T).attr("y2",B+7);
g.selectAll(".h").data(yTicks).join("line").attr("class","h").attr("y1",d=>Math.round(y(d))+.5).attr("y2",d=>Math.round(y(d))+.5).attr("x1",L-7).attr("x2",R);
const ax=svg.append("g").attr("transform",`translate(0,${B+7})`).call(d3.axisBottom(x).tickValues(xTicks).tickFormat(d=>d3.format(".1f")(d)).tickSize(0).tickPadding(8));
const ay=svg.append("g").attr("transform",`translate(${L-7},0)`).call(d3.axisLeft(y).tickValues(yTicks).tickFormat(d3.format(",")).tickSize(0).tickPadding(5));
[ax,ay].forEach(a=>{a.select(".domain").remove();a.selectAll("text").style("font-family",'"Liberation Sans"').style("font-size","16.3px").attr("fill","#000");});
const plus="M-4.5,0H4.5M0,-4.5V4.5";
svg.append("g").selectAll("path").data(points).join("path").attr("d",plus).attr("fill","none").attr("stroke",grid).attr("stroke-width",1.6)
 .attr("transform",d=>`translate(${x(d[0])},${y(d[1])})`);
const lab=svg.append("g").selectAll("g").data(labelNames).join("g").attr("transform",(d,i)=>`translate(${x(10**labelLogX[i])},${y(10**labelLogY[i])})`);
lab.append("text").attr("text-anchor","middle").attr("dy","0.35em").style("font-size","13px").text(d=>d);
lab.each(function(){const s=d3.select(this),b=s.select("text").node().getBBox();
 s.insert("rect","text").attr("x",Math.round(b.x-1)+.5).attr("y",-7.5).attr("width",Math.round(b.width+2)).attr("height",15).attr("fill","none").attr("stroke","#1c4f96").attr("stroke-width",1).attr("stroke-dasharray","1 1");});
const txt=(t,px,py,fs,a)=>svg.append("text").attr("x",px).attr("y",py).attr("text-anchor",a).style("font-size",fs+"px").text(t);
txt(chartTitle,575,27,21.7,"middle");
txt(chartSubtitle,549,53,18,"middle");
txt(yTitle,27,57,14,"start");
txt(xTitle,563,975,14.5,"middle");
</script></body></html>
